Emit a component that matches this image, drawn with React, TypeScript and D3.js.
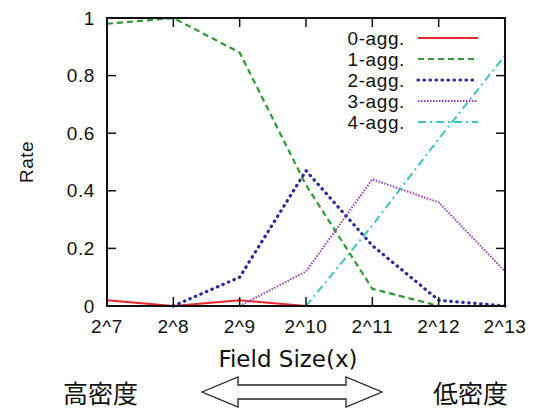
import React from 'react';
import * as d3 from 'd3';

const exponents = [7, 8, 9, 10, 11, 12, 13];
const xTickLabels = ['2^7', '2^8', '2^9', '2^10', '2^11', '2^12', '2^13'];
const yTicks = [0, 0.2, 0.4, 0.6, 0.8, 1];

// null = not drawn
const agg0 = [0.02, 0, 0.02, 0, null, null, null];
const agg1 = [0.98, 1.0, 0.88, 0.42, 0.06, 0, null];
const agg2 = [null, 0, 0.1, 0.47, 0.21, 0.02, 0];
const agg3 = [null, null, 0, 0.12, 0.44, 0.36, 0.12];
const agg4 = [null, null, null, 0, 0.28, 0.58, 0.87];

const seriesNames = ['0-agg.', '1-agg.', '2-agg.', '3-agg.', '4-agg.'];

const W = 554;
const H = 411;
const margin = { top: 18, right: 49, bottom: 105, left: 107 };

const App = () => {
  const w = W - margin.left - margin.right;
  const h = H - margin.top - margin.bottom;

  const x = d3.scaleLinear().domain([7, 13]).range([0, w]);
  const y = d3.scaleLinear().domain([0, 1]).range([h, 0]);

  const styles = [
    { color: '#e8262b', dash: null, width: 2, cap: 'butt' },
    { color: '#2f9a35', dash: '6,4', width: 2.2, cap: 'butt' },
    { color: '#2b2b9e', dash: '0.5,5.5', width: 3.2, cap: 'round' },
    { color: '#9a3cb8', dash: '1.5,1.5', width: 2, cap: 'butt' },
    { color: '#3ec2c6', dash: '8,4,2,4', width: 2, cap: 'butt' },
  ];
  const allSeries = [agg0, agg1, agg2, agg3, agg4];

  const line = d3
    .line<[number, number | null]>()
    .defined((d) => d[1] !== null)
    .x((d) => x(d[0]))
    .y((d) => y(d[1] as number));

  const font = 'Liberation Sans, Arial, sans-serif';
  const fs = 19;

  // double arrow outline
  const ax0 = 202, ax1 = 382, ay = 392, head = 36, shaft = 7, headH = 15;
  const arrow = [
    [ax0, ay],
    [ax0 + head, ay - headH],
    [ax0 + head, ay - shaft],
    [ax1 - head, ay - shaft],
    [ax1 - head, ay - headH],
    [ax1, ay],
    [ax1 - head, ay + headH],
    [ax1 - head, ay + shaft],
    [ax0 + head, ay + shaft],
    [ax0 + head, ay + headH],
  ];

  return (
    <svg
      width={W}
      height={H}
      style={{ position: 'absolute', left: 0, top: 0, background: '#fff' }}
    >
      <g transform={`translate(${margin.left}, ${margin.top})`}>
        {/* series */}
        {allSeries.map((s, i) => (
          <path
            key={i}
            d={line(exponents.map((e, j) => [e, s[j]])) || ''}
            fill="none"
            stroke={styles[i].color}
            strokeWidth={styles[i].width}
            strokeDasharray={styles[i].dash || undefined}
            strokeLinecap={styles[i].cap as any}
          />
        ))}

        {/* frame */}
        <rect x={0} y={0} width={w} height={h} fill="none" stroke="#111" strokeWidth={2} />

        {/* x ticks */}
        {exponents.map((e, i) => (
          <g key={e} transform={`translate(${x(e)},0)`}>
            <line y1={h} y2={h - 9} stroke="#111" strokeWidth={1.5} />
            <line y1={0} y2={9} stroke="#111" strokeWidth={1.5} />
            <text
              y={h + 27}
              textAnchor="middle"
              fontFamily={font}
              fontSize={fs}
              letterSpacing={0.6}
              fill="#111"
            >
              {xTickLabels[i]}
            </text>
          </g>
        ))}

        {/* y ticks */}
        {yTicks.map((t) => (
          <g key={t} transform={`translate(0,${y(t)})`}>
            <line x1={0} x2={9} stroke="#111" strokeWidth={1.5} />
            <line x1={w} x2={w - 9} stroke="#111" strokeWidth={1.5} />
            <text
              x={-12}
              dy="0.35em"
              textAnchor="end"
              fontFamily={font}
              fontSize={fs}
              letterSpacing={0.6}
              fill="#111"
            >
              {d3.format('~g')(t)}
            </text>
          </g>
        ))}

        {/* legend */}
        {seriesNames.map((name, i) => (
          <g key={name} transform={`translate(0,${20 + i * 21})`}>
            <text
              x={298}
              dy="0.35em"
              textAnchor="end"
              fontFamily={font}
              fontSize={fs}
              letterSpacing={0.6}
              fill="#111"
            >
              {name}
            </text>
            <line
              x1={311}
              x2={371}
              stroke={styles[i].color}
              strokeWidth={styles[i].width}
              strokeDasharray={styles[i].dash || undefined}
              strokeLinecap={styles[i].cap as any}
            />
          </g>
        ))}
      </g>

      {/* y label */}
      <text
        transform="translate(33,162) rotate(-90)"
        textAnchor="middle"
        fontFamily={font}
        fontSize={19}
        letterSpacing={0.5}
        fill="#111"
      >
        Rate
      </text>

      <text
        x={288}
        y={367}
        textAnchor="middle"
        fontFamily="DejaVu Sans, Verdana, sans-serif"
        fontSize={23}
        fill="#111"
      >
        Field Size(x)
      </text>

      <text x={63} y={403} fontFamily="Noto Sans CJK JP, sans-serif" fontSize={25} fill="#111">
        高密度
      </text>
      <text x={433} y={403} fontFamily="Noto Sans CJK JP, sans-serif" fontSize={25} fill="#111">
        低密度
      </text>

      <polygon
        points={arrow.map((p) => p.join(',')).join(' ')}
        fill="#fff"
        stroke="#222"
        strokeWidth={1.3}
      />
    </svg>
  );
};

export default App;
